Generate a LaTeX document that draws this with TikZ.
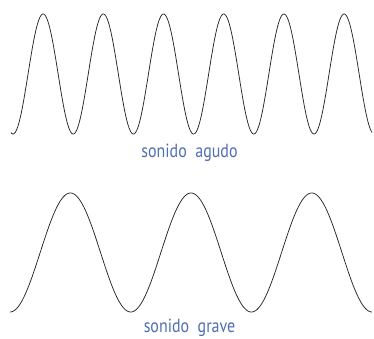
\documentclass[tikz,border=0pt]{standalone}
\usepackage{fontspec}
\setmainfont{PT Sans}[FakeStretch=0.84]
\definecolor{lblc}{RGB}{79,110,180}
\begin{document}
\begin{tikzpicture}[x=1pt,y=1pt,
  wave/.style={line width=0.75pt, black!85},
  lbl/.style={text=lblc, font=\fontsize{19}{19}\selectfont, inner sep=0pt, anchor=base}]
\useasboundingbox (0,0) rectangle (374,339);
\draw[wave] plot[domain=11:372, samples=500, smooth] (\x, {339-(74+60*cos((\x-13)*(360/60.2)))});
\draw[wave] plot[domain=10:372, samples=500, smooth] (\x, {339-(252.5+59.5*cos((\x-10)*(360/120.7)))});
\node[lbl] (agudo) at (189.5,181) {sonido\ \ agudo};
\node[lbl] (grave) at (189.5,6) {sonido\ \ grave};
\end{tikzpicture}
\end{document}
